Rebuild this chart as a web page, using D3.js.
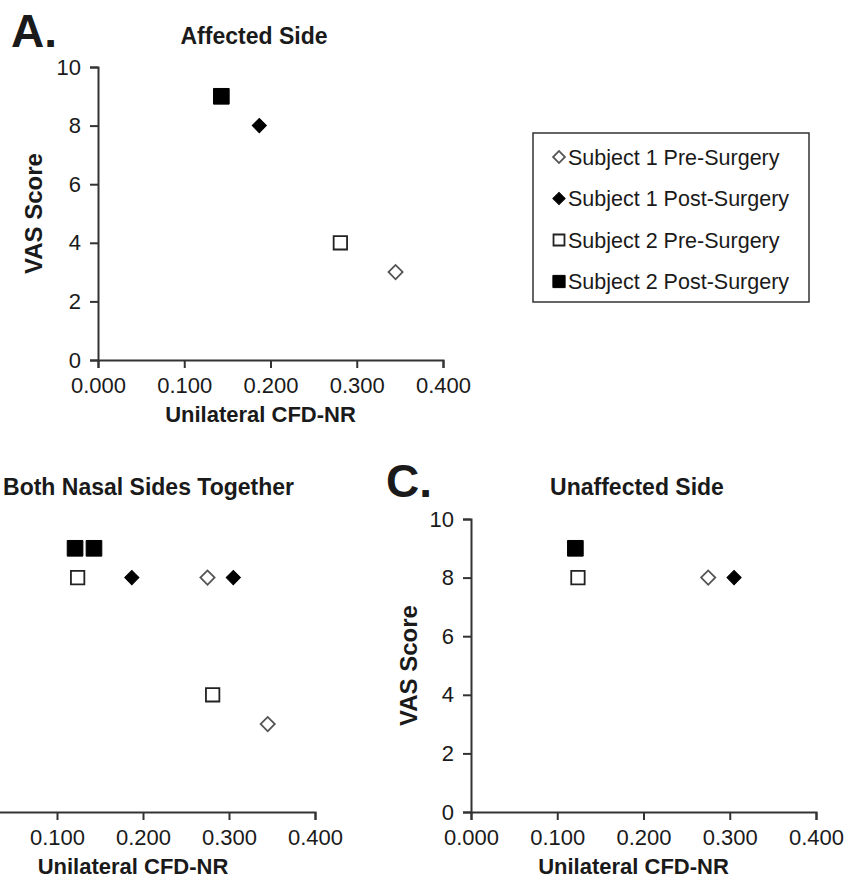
<!DOCTYPE html>
<html><head><meta charset="utf-8">
<script src="https://cdn.jsdelivr.net/npm/d3@7"></script>
<style>body{margin:0;background:#fff}svg{display:block}text{font-family:Arial,"Liberation Sans",sans-serif;fill:#1a1a1a}</style>
</head><body>
<script>
// ---- data ----
const seriesNames = ["Subject 1 Pre-Surgery","Subject 1 Post-Surgery","Subject 2 Pre-Surgery","Subject 2 Post-Surgery"];
const xTicks = [0, 0.1, 0.2, 0.3, 0.4];
const yTicks = [0, 2, 4, 6, 8, 10];
// Panel A: Affected Side  [CFD-NR, VAS]
const affectedS1Pre  = [[0.345, 3]];
const affectedS1Post = [[0.187, 8]];
const affectedS2Pre  = [[0.281, 4]];
const affectedS2Post = [[0.143, 9]];
// Panel B: Both Nasal Sides Together
const bothS1Pre  = [[0.275, 8], [0.345, 3]];
const bothS1Post = [[0.187, 8], [0.305, 8]];
const bothS2Pre  = [[0.124, 8], [0.281, 4]];
const bothS2Post = [[0.121, 9], [0.143, 9]];
// Panel C: Unaffected Side
const unaffS1Pre  = [[0.275, 8]];
const unaffS1Post = [[0.305, 8]];
const unaffS2Pre  = [[0.124, 8]];
const unaffS2Post = [[0.121, 9]];

// ---- drawing ----
const W = 849, H = 880;
const svg = d3.select("body").append("svg").attr("width", W).attr("height", H);

const styles = [
  {type:"diamond", fill:"#fff", stroke:"#555", size:100, lsize:70},
  {type:"diamond", fill:"#000", stroke:"#000", size:100, lsize:75},
  {type:"square",  fill:"#fff", stroke:"#222", size:180, lsize:120},
  {type:"square",  fill:"#000", stroke:"#000", size:245, lsize:150}
];
function drawMarker(g, st, x, y, size){
  g.append("path").attr("d", d3.symbol().type(d3.symbolSquare).size(size)())
   .attr("transform", `translate(${x},${y})` + (st.type==="diamond" ? " rotate(45)" : ""))
   .attr("fill", st.fill).attr("stroke", st.stroke).attr("stroke-width", st.fill==="#fff" ? 1.8 : 1);
}

const panels = [
  {label:"A.", lx:11, ly:47, title:"Affected Side", tx:254, ty:44, anchor:"middle", x0:98, x1:443, y0:360, y1:67,
   showY:true, ylabX:42, data:[affectedS1Pre, affectedS1Post, affectedS2Pre, affectedS2Post]},
  {label:null, title:"Both Nasal Sides Together", tx:294, ty:495, anchor:"end", x0:-29, x1:315, y0:812, y1:519,
   showY:false, data:[bothS1Pre, bothS1Post, bothS2Pre, bothS2Post]},
  {label:"C.", lx:386, ly:497, title:"Unaffected Side", tx:637, ty:495, anchor:"middle", x0:471, x1:816, y0:812, y1:519,
   showY:true, ylabX:417, data:[unaffS1Pre, unaffS1Post, unaffS2Pre, unaffS2Post]}
];

panels.forEach(p => {
  const x = d3.scaleLinear().domain([0, 0.4]).range([p.x0, p.x1]);
  const y = d3.scaleLinear().domain([0, 10]).range([p.y0, p.y1]);
  const g = svg.append("g");
  const fx = d3.format(".3f");
  const xa = g.append("g").attr("transform", `translate(0,${p.y0})`)
    .call(d3.axisBottom(x).tickValues(xTicks)
      .tickFormat(d => (x(d) < 0 ? "" : fx(d))).tickSizeOuter(0).tickSize(8).tickPadding(8));
  const ya = g.append("g").attr("transform", `translate(${p.x0},0)`)
    .call(d3.axisLeft(y).tickValues(yTicks).tickFormat(d => p.showY ? d : "").tickSizeOuter(0).tickSize(8).tickPadding(9));
  [xa, ya].forEach(a => {
    a.select(".domain").attr("stroke", "#333").attr("stroke-width", 2);
    a.selectAll(".tick line").attr("stroke", "#333").attr("stroke-width", 2);
    a.selectAll(".tick text").attr("font-size", 22).attr("font-family", "Arial, 'Liberation Sans', sans-serif").attr("fill", "#222");
  });
  xa.selectAll(".tick text").attr("dy", "0.75em");
  // x label
  g.append("text").attr("x", (p.x0 + p.x1)/2 - 10).attr("y", p.y0 + 62)
    .attr("text-anchor", "middle").attr("font-size", 22).attr("font-weight", "bold").text("Unilateral CFD-NR");
  if (p.showY) {
    g.append("text").attr("transform", `translate(${p.ylabX},${(p.y0+p.y1)/2}) rotate(-90)`)
      .attr("text-anchor", "middle").attr("font-size", 24).attr("font-weight", "bold").text("VAS Score");
  }
  g.append("text").attr("x", p.tx).attr("y", p.ty).attr("text-anchor", p.anchor)
    .attr("font-size", 23).attr("font-weight", "bold").text(p.title);
  if (p.label) {
    g.append("text").attr("x", p.lx).attr("y", p.ly).attr("font-size", 46).attr("font-weight", "bold").text(p.label);
  }
  p.data.forEach((ser, i) => {
    ser.forEach(d => drawMarker(g, styles[i], x(d[0]), y(d[1]), styles[i].size));
  });
});

// legend
const lg = svg.append("g");
lg.append("rect").attr("x", 533).attr("y", 133).attr("width", 276).attr("height", 169)
  .attr("fill", "#fff").attr("stroke", "#333").attr("stroke-width", 1.5);
seriesNames.forEach((n, i) => {
  const yy = 157 + i * 41.5;
  drawMarker(lg, styles[i], 559, yy, styles[i].lsize);
  lg.append("text").attr("x", 568).attr("y", yy).attr("dy", "0.36em").attr("font-size", 21.5).text(n);
});
</script>
</body></html>
